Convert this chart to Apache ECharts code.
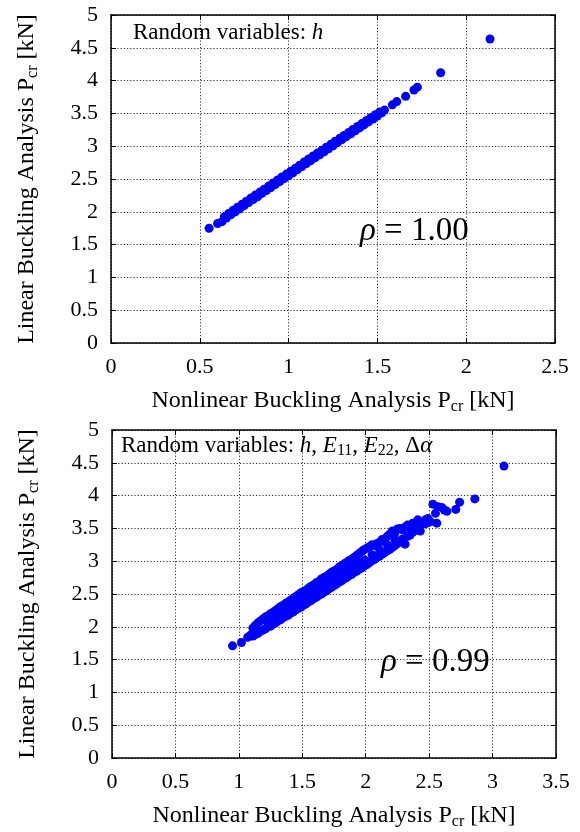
<!DOCTYPE html>
<html>
<head>
<meta charset="utf-8">
<script src="https://cdn.jsdelivr.net/npm/echarts@6/dist/echarts.min.js"></script>
<style>
html,body{margin:0;padding:0;background:#fff;}
#chart{width:580px;height:832px;}
</style>
</head>
<body>
<div id="chart"></div>
<script>
// ---- Top panel: random variable h ----
var topX = [0.552,0.600,0.625,0.638,0.650,0.663,0.675,0.688,0.700,0.712,0.725,0.738,0.750,0.762,0.775,0.788,0.800,0.812,0.825,0.838,0.850,0.862,0.875,0.888,0.900,0.912,0.925,0.938,0.950,0.962,0.975,0.988,1.000,1.012,1.025,1.038,1.050,1.062,1.075,1.088,1.100,1.112,1.125,1.138,1.150,1.162,1.175,1.188,1.200,1.212,1.225,1.238,1.250,1.262,1.275,1.288,1.300,1.312,1.325,1.338,1.350,1.362,1.375,1.388,1.400,1.412,1.425,1.438,1.450,1.462,1.475,1.488,1.500,1.512,1.525,1.540,1.584,1.609,1.659,1.706,1.725,1.856,2.134];
var topY = [1.750,1.820,1.850,1.925,1.905,1.975,1.955,2.025,2.000,2.070,2.045,2.115,2.095,2.160,2.140,2.210,2.185,2.255,2.230,2.300,2.280,2.345,2.325,2.395,2.370,2.440,2.415,2.485,2.460,2.530,2.505,2.575,2.550,2.620,2.595,2.665,2.645,2.710,2.690,2.760,2.735,2.805,2.780,2.850,2.825,2.895,2.870,2.940,2.915,2.985,2.960,3.030,3.005,3.075,3.055,3.120,3.100,3.165,3.145,3.210,3.190,3.255,3.235,3.300,3.280,3.345,3.325,3.390,3.370,3.435,3.415,3.480,3.460,3.520,3.510,3.550,3.630,3.680,3.760,3.857,3.900,4.120,4.634];

// ---- Bottom panel: random variables h, E11, E22, dAlpha ----
var botX = [0.95,1.02,1.07,1.09,1.11,1.11,1.13,1.13,1.15,1.15,1.17,1.17,1.19,1.19,1.21,1.21,1.23,1.23,1.23,1.25,1.25,1.27,1.27,1.27,1.29,1.29,1.31,1.31,1.31,1.33,1.33,1.35,1.35,1.35,1.37,1.37,1.39,1.39,1.39,1.41,1.41,1.43,1.43,1.43,1.45,1.45,1.47,1.47,1.47,1.49,1.49,1.51,1.51,1.51,1.53,1.53,1.55,1.55,1.55,1.57,1.57,1.59,1.59,1.59,1.61,1.61,1.63,1.63,1.63,1.65,1.65,1.67,1.67,1.67,1.69,1.69,1.71,1.71,1.71,1.73,1.73,1.75,1.75,1.75,1.77,1.77,1.79,1.79,1.79,1.81,1.81,1.83,1.83,1.83,1.85,1.85,1.87,1.87,1.87,1.89,1.89,1.91,1.91,1.91,1.93,1.93,1.95,1.95,1.95,1.97,1.97,1.99,1.99,1.99,2.01,2.01,2.03,2.03,2.05,2.05,2.05,2.07,2.07,2.09,2.09,2.11,2.11,2.11,2.13,2.13,2.15,2.15,2.17,2.17,2.17,2.19,2.19,2.21,2.21,2.23,2.23,2.23,2.25,2.25,2.27,2.27,2.29,2.29,2.31,2.31,2.33,2.33,2.35,2.35,2.37,2.37,2.39,2.39,2.41,2.41,2.43,2.43,2.45,2.47,2.47,2.49,2.51,2.53,2.55,2.56,2.57,2.60,2.62,2.64,2.71,2.74,2.86,3.09];
var botY = [1.71,1.76,1.84,1.87,1.98,1.86,2.02,1.88,2.06,1.90,2.09,1.93,2.12,1.95,2.15,1.97,2.17,2.00,2.08,2.20,2.01,2.22,2.04,2.13,2.25,2.06,2.28,2.09,2.18,2.31,2.11,2.33,2.14,2.23,2.36,2.16,2.38,2.18,2.28,2.41,2.21,2.44,2.23,2.33,2.46,2.26,2.49,2.28,2.38,2.52,2.30,2.54,2.33,2.43,2.56,2.35,2.59,2.38,2.48,2.62,2.40,2.64,2.43,2.53,2.67,2.45,2.69,2.48,2.58,2.73,2.50,2.75,2.53,2.63,2.77,2.55,2.80,2.58,2.68,2.83,2.60,2.85,2.63,2.73,2.87,2.65,2.91,2.68,2.78,2.93,2.70,2.96,2.73,2.83,2.98,2.75,3.01,2.78,2.88,3.03,2.80,3.06,2.83,2.93,3.09,2.85,3.12,2.88,2.97,3.15,2.90,3.18,2.93,3.02,3.20,2.95,3.22,2.98,3.25,3.01,3.10,3.24,3.03,3.27,3.06,3.29,3.08,3.17,3.33,3.11,3.34,3.13,3.38,3.16,3.25,3.41,3.18,3.46,3.21,3.43,3.24,3.33,3.49,3.27,3.50,3.30,3.48,3.34,3.52,3.26,3.55,3.38,3.50,3.40,3.58,3.44,3.54,3.47,3.63,3.48,3.58,3.46,3.58,3.63,3.57,3.65,3.60,3.87,3.73,3.58,3.83,3.82,3.78,3.76,3.79,3.90,3.95,4.45];

var topXTicks = [0, 2.5, 0.5];   // min, max, step
var botXTicks = [0, 3.5, 0.5];
var yTicks = [0, 5, 0.5];

var topNote = 'Random variables: {i|h}';
var botNote = 'Random variables: {i|h}, {i|E}{s|11}, {i|E}{s|22}, Δ{i|α}';
var topRho = '{i|ρ} = 1.00';
var botRho = '{i|ρ} = 0.99';
var xTitle = 'Nonlinear Buckling Analysis P{s|cr} [kN]';
var yTitle = 'Linear Buckling Analysis P{s|cr} [kN]';

var FONT = '"Liberation Serif", "Times New Roman", serif';
function pairs(xs, ys){ var o=[]; for (var i=0;i<xs.length;i++) o.push([xs[i], ys[i]]); return o; }

var nameStyle = {
  fontFamily: FONT, fontSize: 24, color: '#000', lineHeight: 28,
  rich: { s: { fontFamily: FONT, fontSize: 16, lineHeight: 16, verticalAlign: 'bottom', color: '#000' } }
};
var gridLine = { show: true, lineStyle: { color: '#333', type: [1.2, 2], width: 1 } };
function xAxisMain(g, t){
  return { gridIndex: g, type: 'value', position: 'bottom', min: t[0], max: t[1], interval: t[2],
    axisLine: { show: true, onZero: false, lineStyle: { color: '#000', width: 1.5 } },
    axisTick: { show: true, inside: true, length: 5, lineStyle: { color: '#000', width: 1 } },
    axisLabel: { fontFamily: FONT, fontSize: 22, color: '#000', margin: 13 },
    splitLine: gridLine,
    name: xTitle, nameLocation: 'middle', nameGap: 44, nameTextStyle: nameStyle };
}
function xAxisTop(g, t){
  return { gridIndex: g, type: 'value', position: 'top', min: t[0], max: t[1], interval: t[2],
    axisLine: { show: true, onZero: false, lineStyle: { color: '#000', width: 1.5 } },
    axisTick: { show: true, inside: true, length: 5, lineStyle: { color: '#000', width: 1 } },
    axisLabel: { show: false }, splitLine: { show: false } };
}
function yAxisMain(g, t){
  return { gridIndex: g, type: 'value', position: 'left', min: t[0], max: t[1], interval: t[2],
    axisLine: { show: true, onZero: false, lineStyle: { color: '#000', width: 1.5 } },
    axisTick: { show: true, inside: true, length: 5, lineStyle: { color: '#000', width: 1 } },
    axisLabel: { fontFamily: FONT, fontSize: 22, color: '#000', margin: 13 },
    splitLine: gridLine,
    name: yTitle, nameLocation: 'middle', nameGap: 70, nameRotate: 90, nameTextStyle: nameStyle };
}
function yAxisRight(g, t){
  return { gridIndex: g, type: 'value', position: 'right', min: t[0], max: t[1], interval: t[2],
    axisLine: { show: true, onZero: false, lineStyle: { color: '#000', width: 1.5 } },
    axisTick: { show: true, inside: true, length: 5, lineStyle: { color: '#000', width: 1 } },
    axisLabel: { show: false }, splitLine: { show: false } };
}
var noteRich = {
  i: { fontFamily: FONT, fontStyle: 'italic', fontSize: 23, color: '#000' },
  s: { fontFamily: FONT, fontSize: 16, color: '#000', verticalAlign: 'bottom', lineHeight: 16 }
};
var rhoRich = { i: { fontFamily: FONT, fontStyle: 'italic', fontSize: 33, color: '#000' } };

var chart = echarts.init(document.getElementById('chart'), null, { renderer: 'canvas' });
chart.setOption({
  backgroundColor: '#fff',
  animation: false,
  title: [
    { text: topNote, left: 133, top: 19, padding: 0,
      textStyle: { fontFamily: FONT, fontSize: 23, fontWeight: 'normal', color: '#000', lineHeight: 27, rich: noteRich } },
    { text: botNote, left: 121, top: 432, padding: 0,
      textStyle: { fontFamily: FONT, fontSize: 23, fontWeight: 'normal', color: '#000', lineHeight: 27, rich: noteRich } },
    { text: topRho, left: 360, top: 212, padding: 0,
      textStyle: { fontFamily: FONT, fontSize: 33, fontWeight: 'normal', color: '#000', lineHeight: 38, rich: rhoRich } },
    { text: botRho, left: 381, top: 643, padding: 0,
      textStyle: { fontFamily: FONT, fontSize: 33, fontWeight: 'normal', color: '#000', lineHeight: 38, rich: rhoRich } }
  ],
  grid: [
    { left: 111, top: 15, width: 444, height: 328 },
    { left: 112, top: 430, width: 444, height: 328 }
  ],
  xAxis: [ xAxisMain(0, topXTicks), xAxisTop(0, topXTicks), xAxisMain(1, botXTicks), xAxisTop(1, botXTicks) ],
  yAxis: [ yAxisMain(0, yTicks), yAxisRight(0, yTicks), yAxisMain(1, yTicks), yAxisRight(1, yTicks) ],
  series: [
    { type: 'scatter', xAxisIndex: 0, yAxisIndex: 0, data: pairs(topX, topY), symbolSize: 9,
      itemStyle: { color: '#0000ff', opacity: 1 } },
    { type: 'scatter', xAxisIndex: 2, yAxisIndex: 2, data: pairs(botX, botY), symbolSize: 9,
      itemStyle: { color: '#0000ff', opacity: 1 } }
  ]
});
</script>
</body>
</html>
